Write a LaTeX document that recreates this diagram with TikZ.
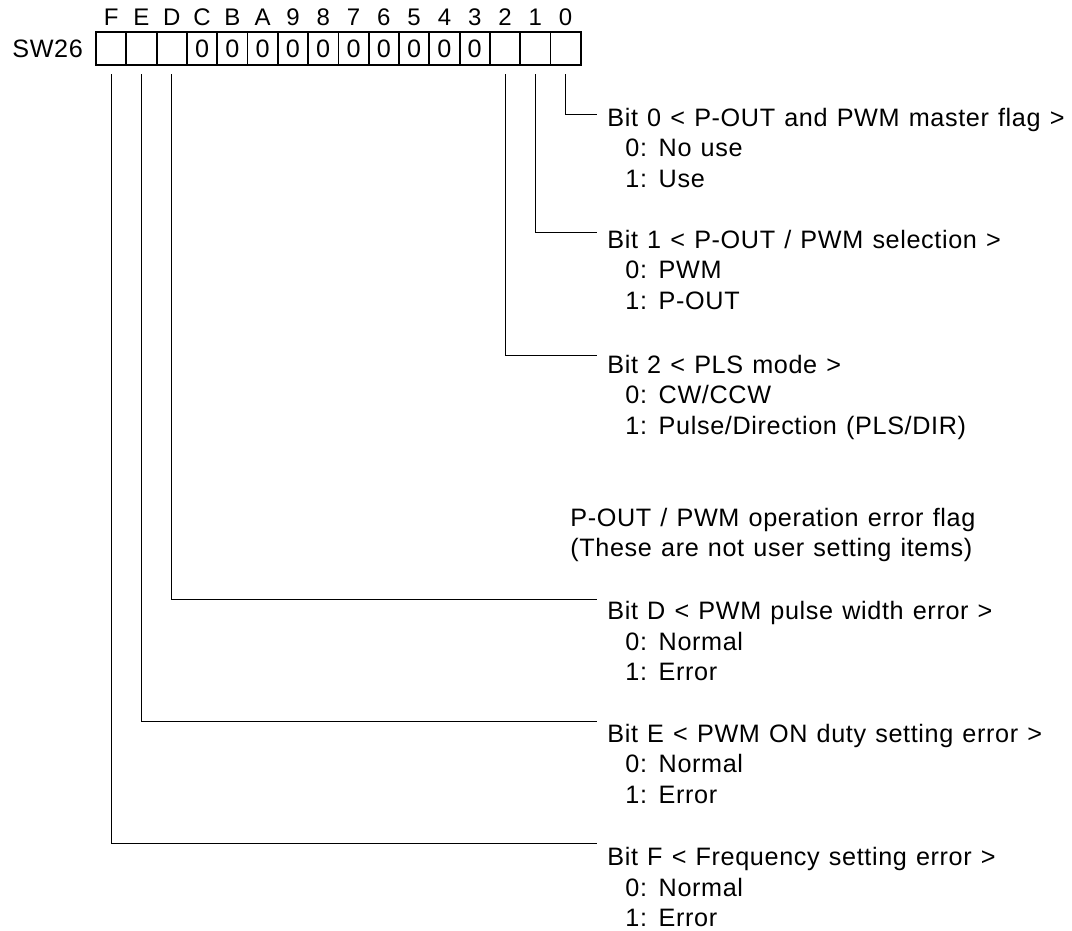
\documentclass[tikz,border=0pt]{standalone}
\usepackage{fontspec}
\setmainfont{Liberation Sans}[LetterSpace=2.5,WordSpace=1.2]
\usepackage{tikz}
\usetikzlibrary{positioning}
\tikzset{
  cell/.style={draw=black, line width=0.9pt, minimum width=15.15pt, minimum height=16.5pt,
    inner sep=0pt, font=\fontsize{12.6}{14}\selectfont},
  bitno/.style={inner sep=0pt, font=\fontsize{12}{13}\selectfont},
  wire/.style={draw=black, line width=0.5pt},
  desc/.style={anchor=north west, inner sep=0pt, align=left, font=\fontsize{12.6}{15.25}\selectfont}
}

\begin{document}
\begin{tikzpicture}[x=0.5pt,y=-0.5pt]
  \useasboundingbox (0,0) rectangle (1072,931);
  % register, bit F on the left
  \foreach \b/\v [count=\i from 0] in {F/,E/,D/,C/0,B/0,A/0,9/0,8/0,7/0,6/0,5/0,4/0,3/0,2/,1/,0/} {
    \node[cell] (c\b) at ({111.15+30.3*\i},48.8) {\v};
    \node[bitno, above=2.8pt of c\b] (l\b) {\b};
  }
  \node[left=5.9pt of cF, inner sep=0pt, font=\fontsize{12.6}{14}\selectfont] (reg) {SW26};

  \node[desc] (b0) at (607,107.5) {Bit 0 < P-OUT and PWM master flag >\\\hspace*{9pt}0: No use\\\hspace*{9pt}1: Use};
  \node[desc] (b1) at (607,229.5) {Bit 1 < P-OUT / PWM selection >\\\hspace*{9pt}0: PWM\\\hspace*{9pt}1: P-OUT};
  \node[desc] (b2) at (607,354.5) {Bit 2 < PLS mode >\\\hspace*{9pt}0: CW/CCW\\\hspace*{9pt}1: Pulse/Direction (PLS/DIR)};
  \node[desc, font=\fontsize{12.6}{15}\selectfont] (hdr) at (570,508) {P-OUT / PWM operation error flag\\(These are not user setting items)};
  \node[desc] (bD) at (607,601) {Bit D < PWM pulse width error >\\\hspace*{9pt}0: Normal\\\hspace*{9pt}1: Error};
  \node[desc] (bE) at (607,723.5) {Bit E < PWM ON duty setting error >\\\hspace*{9pt}0: Normal\\\hspace*{9pt}1: Error};
  \node[desc] (bF) at (607,847) {Bit F < Frequency setting error >\\\hspace*{9pt}0: Normal\\\hspace*{9pt}1: Error};

  \foreach \b/\y in {0/115,1/232.7,2/355,D/599.3,E/721.5,F/843.5} {
    \coordinate (k\b) at (597,\y);
    \draw[wire] ([yshift=-4pt]c\b.south) |- (k\b);
  }
\end{tikzpicture}
\end{document}
